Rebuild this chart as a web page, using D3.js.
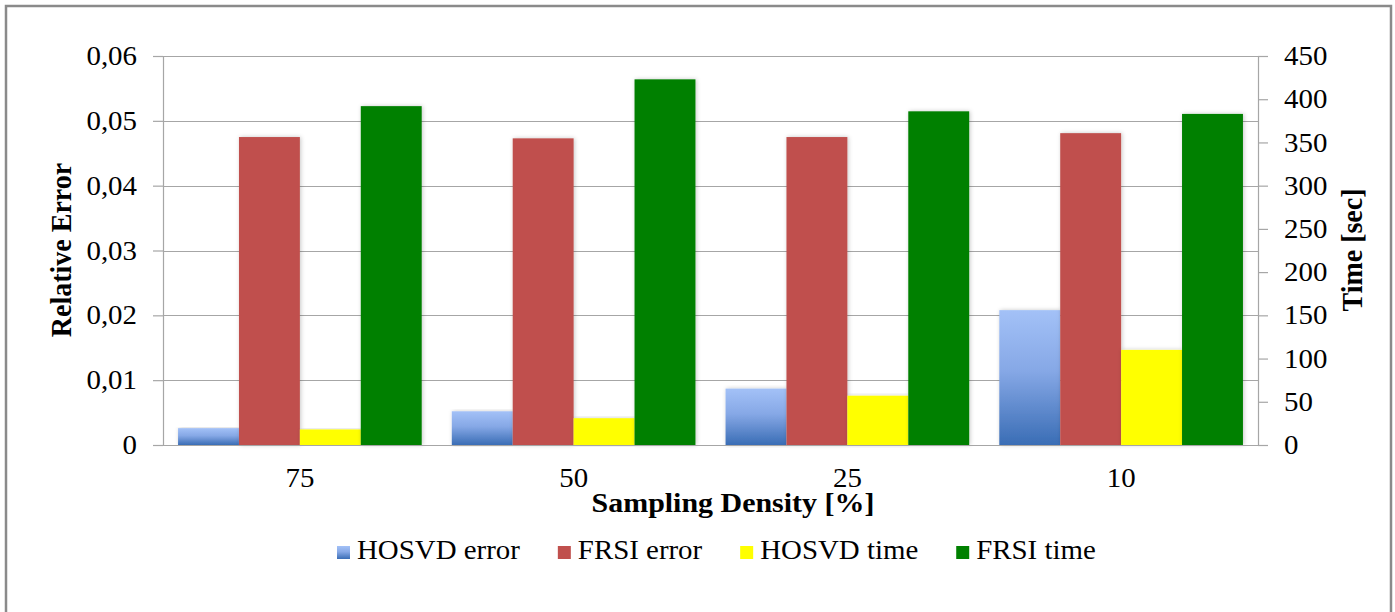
<!DOCTYPE html>
<html>
<head>
<meta charset="utf-8">
<script src="https://cdn.jsdelivr.net/npm/d3@7"></script>
<style>
  html, body { margin: 0; padding: 0; background: #fff; }
  svg { display: block; }
  svg text { font-family: "Liberation Serif", "DejaVu Serif", serif !important; fill: #000; }
</style>
</head>
<body>
<svg id="chart" width="1395" height="612"></svg>
<script>
// ---- data ----
const categories = ["75", "50", "25", "10"];
const seriesNames = ["HOSVD error", "FRSI error", "HOSVD time", "FRSI time"];
const hosvdError = [0.0026, 0.0052, 0.0087, 0.0208];
const frsiError  = [0.0475, 0.0473, 0.0475, 0.0481];
const hosvdTime  = [18, 31, 57, 110];
const frsiTime   = [392, 423, 386, 383];
const leftTicks  = [0, 0.01, 0.02, 0.03, 0.04, 0.05, 0.06];
const leftTickLabels = ["0", "0,01", "0,02", "0,03", "0,04", "0,05", "0,06"];
const rightTicks = [0, 50, 100, 150, 200, 250, 300, 350, 400, 450];
const xTitle = "Sampling Density [%]";
const leftTitle = "Relative Error";
const rightTitle = "Time [sec]";

// ---- layout ----
const FONT = "'Liberation Serif', 'DejaVu Serif', serif";
const plot = { left: 163, right: 1258, top: 56, bottom: 445 };
const STRETCH = 1.07;
const FS = 27, TFS = 28;
const colors = ["url(#blueGrad)", "#C0504D", "#FFFF00", "#008000"];
const seriesVals = [hosvdError, frsiError, hosvdTime, frsiTime];
const seriesAxis = ["left", "left", "right", "right"];

const svg = d3.select("#chart");
const defs = svg.append("defs");
const g1 = defs.append("linearGradient").attr("id", "blueGrad")
  .attr("x1", 0).attr("y1", 0).attr("x2", 0).attr("y2", 1);
g1.append("stop").attr("offset", "0%").attr("stop-color", "#A3C1F7");
g1.append("stop").attr("offset", "45%").attr("stop-color", "#86A8E6");
g1.append("stop").attr("offset", "100%").attr("stop-color", "#3A6DB5");
const flt = defs.append("filter").attr("id", "shadow")
  .attr("x", "-20%").attr("y", "-5%").attr("width", "140%").attr("height", "110%");
flt.append("feDropShadow").attr("dx", 1).attr("dy", 0).attr("stdDeviation", 2)
  .attr("flood-color", "#000").attr("flood-opacity", 0.22);

// outer frame
svg.append("rect").attr("x", 6).attr("y", 6).attr("width", 1385).attr("height", 612)
  .attr("fill", "#fff").attr("stroke", "#8a8a8a").attr("stroke-width", 2.5);

const yL = d3.scaleLinear().domain([0, 0.06]).range([plot.bottom, plot.top]);
const yR = d3.scaleLinear().domain([0, 450]).range([plot.bottom, plot.top]);
const x0 = d3.scaleBand().domain(categories).range([plot.left, plot.right])
  .paddingInner(0.11).paddingOuter(0.055);
const x1 = d3.scaleBand().domain(seriesNames).range([0, x0.bandwidth()]).padding(0);

// gridlines
svg.append("g").selectAll("line").data(leftTicks).join("line")
  .attr("x1", plot.left).attr("x2", plot.right)
  .attr("y1", d => Math.round(yL(d)) + 0.5).attr("y2", d => Math.round(yL(d)) + 0.5)
  .attr("stroke", "#a6a6a6").attr("stroke-width", 1.2);

// bars
const groups = svg.append("g").selectAll("g").data(categories).join("g")
  .attr("transform", d => `translate(${x0(d)},0)`);
groups.selectAll("rect")
  .data((c, ci) => seriesNames.map((s, si) => ({ s, si, v: seriesVals[si][ci] })))
  .join("rect")
  .attr("x", d => x1(d.s))
  .attr("width", x1.bandwidth())
  .attr("y", d => (seriesAxis[d.si] === "left" ? yL : yR)(d.v))
  .attr("height", d => plot.bottom - (seriesAxis[d.si] === "left" ? yL : yR)(d.v))
  .attr("fill", d => colors[d.si])
  .attr("filter", "url(#shadow)");

function stretchTexts(sel) {
  sel.each(function () {
    const t = d3.select(this);
    const x = +t.attr("x") || 0, y = +t.attr("y") || 0;
    t.attr("x", 0).attr("y", 0)
      .attr("transform", `translate(${x},${y}) scale(${STRETCH},1)`);
  });
}

// left axis
const axL = svg.append("g").attr("transform", `translate(${plot.left},0)`)
  .call(d3.axisLeft(yL).tickValues(leftTicks).tickSize(10).tickSizeOuter(0)
    .tickPadding(16).tickFormat((d, i) => leftTickLabels[i]));
// right axis
const axR = svg.append("g").attr("transform", `translate(${plot.right},0)`)
  .call(d3.axisRight(yR).tickValues(rightTicks).tickSize(10).tickSizeOuter(0)
    .tickPadding(16).tickFormat(d3.format("d")));
// bottom axis (labels only)
const axB = svg.append("g").attr("transform", `translate(0,${plot.bottom})`)
  .call(d3.axisBottom(x0).tickSize(0).tickPadding(23));
axB.select(".domain").remove();

[axL, axR, axB].forEach(ax => {
  ax.attr("font-family", FONT).attr("font-size", FS);
  ax.selectAll(".domain, .tick line").attr("stroke", "#a6a6a6").attr("stroke-width", 1.2);
  ax.selectAll("text").attr("font-size", FS).style("font-family", FONT).attr("fill", "#000");
  stretchTexts(ax.selectAll("text"));
});
// baseline across plot
svg.append("line").attr("x1", plot.left - 10).attr("x2", plot.right + 10)
  .attr("y1", plot.bottom + 0.5).attr("y2", plot.bottom + 0.5)
  .attr("stroke", "#a6a6a6").attr("stroke-width", 1.2);

// titles
svg.append("text").attr("transform", `translate(733,512) scale(${STRETCH},1)`)
  .attr("text-anchor", "middle").attr("font-weight", "bold").attr("font-size", TFS)
  .style("font-family", FONT).text(xTitle);
svg.append("text").attr("transform", `translate(71,250) scale(${STRETCH},1) rotate(-90)`)
  .attr("text-anchor", "middle").attr("font-weight", "bold").attr("font-size", TFS)
  .style("font-family", FONT).text(leftTitle);
svg.append("text").attr("transform", `translate(1362,250) scale(${STRETCH},1) rotate(-90)`)
  .attr("text-anchor", "middle").attr("font-weight", "bold").attr("font-size", TFS)
  .style("font-family", FONT).text(rightTitle);

// legend
const legend = svg.append("g");
let lx = 337;
seriesNames.forEach((name, i) => {
  legend.append("rect").attr("x", lx).attr("y", 546).attr("width", 13).attr("height", 13)
    .attr("fill", colors[i]);
  const t = legend.append("text").attr("font-size", FS).style("font-family", FONT)
    .attr("transform", `translate(${lx + 20},559) scale(${STRETCH},1)`).text(name);
  const w = t.node().getComputedTextLength() * STRETCH;
  lx = lx + 20 + w + 38;
});
</script>
</body>
</html>
